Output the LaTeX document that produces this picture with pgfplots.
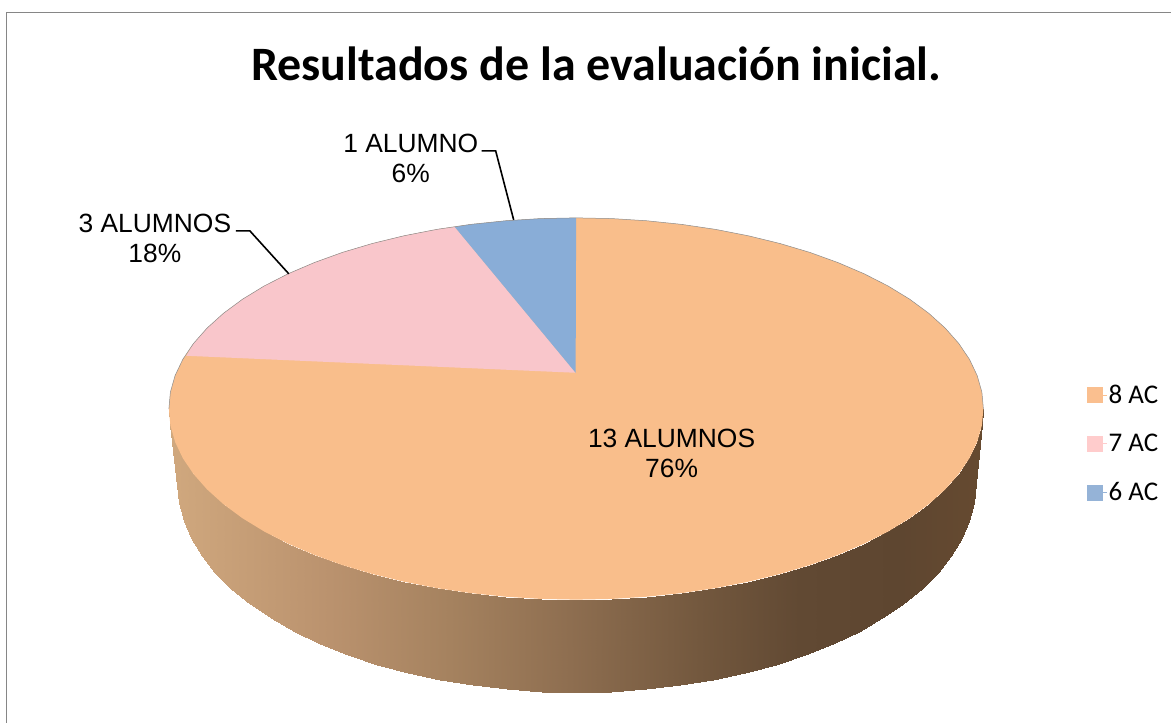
\documentclass[border=0pt]{standalone}
\usepackage{pgfplots}
\pgfplotsset{compat=1.18}
\usepackage{fontspec}
\setmainfont{Liberation Sans}
\newfontfamily\carlito{Carlito}
\definecolor{topO}{HTML}{F9BE8B}
\definecolor{topP}{HTML}{F9C6CB}
\definecolor{topB}{HTML}{89ADD7}
\definecolor{legO}{HTML}{FABF8F}
\definecolor{legP}{HTML}{FFCCCC}
\definecolor{legB}{HTML}{95B3D7}
\definecolor{frameC}{HTML}{868686}
\begin{document}
\begin{tikzpicture}
\begin{axis}[
  scale only axis, width=1172pt, height=723pt,
  xmin=0, xmax=1172, ymin=0, ymax=723, y dir=reverse,
  hide axis, clip=false,
  colormap={side}{rgb255(0pt)=(208,168,126); rgb255(160pt)=(186,146,110); rgb255(280pt)=(165,130,95); rgb255(400pt)=(142,110,80); rgb255(530pt)=(115,88,62); rgb255(630pt)=(97,73,51); rgb255(730pt)=(94,70,48); rgb255(815pt)=(102,74,48)},
  point meta min=170, point meta max=985,
  legend style={at={(axis cs:1088,383)}, anchor=north west, draw=none, fill=none,
    font=\carlito\fontsize{27}{27}\selectfont, row sep=25.5pt, inner sep=0pt, outer sep=0pt,
    /tikz/every even column/.append style={column sep=6pt}},
  legend cell align=left,
  legend image code/.code={\fill[#1] (0pt,-7.5pt) rectangle (15pt,7.5pt); \path (0pt,0pt) -- (19pt,0pt);},
]
\path (axis cs:0,0) rectangle (axis cs:1172,723);
% frame
\addplot[forget plot, frameC, line width=1.5pt] coordinates {(6.5,723) (6.5,12.5) (1172,12.5)};
% side band
\addplot[forget plot, surf, shader=interp, mesh/rows=2, mesh/cols=37, point meta=x] coordinates {
(984.0,409) (982.5,425.7) (977.8,442.2) (970.1,458.4) (959.4,474.3) (945.8,489.7) (929.4,504.5) (910.3,518.6) (888.7,531.8) (864.6,544.1) (838.4,555.3) (810.2,565.5) (780.3,574.4) (748.7,582.1) (715.9,588.5) (682.0,593.5) (647.2,597.1) (612.0,599.3) (576.5,600) (541.0,599.3) (505.8,597.1) (471.0,593.5) (437.1,588.5) (404.3,582.1) (372.7,574.4) (342.8,565.5) (314.6,555.3) (288.4,544.1) (264.3,531.8) (242.7,518.6) (223.6,504.5) (207.2,489.7) (193.6,474.3) (182.9,458.4) (175.2,442.2) (170.5,425.7) (169.0,409)

(976,485) (974.5,503.1) (969.9,521.1) (962.4,538.8) (951.9,556.1) (938.6,572.9) (922.5,589) (903.9,604.3) (882.6,618.7) (859.1,632.1) (833.5,644.3) (805.9,655.4) (776.5,665.1) (745.6,673.5) (713.5,680.5) (680.3,685.9) (646.3,689.8) (611.8,692.2) (577,693) (542.2,692.2) (507.7,689.8) (473.7,685.9) (440.5,680.5) (408.4,673.5) (377.5,665.1) (348.1,655.4) (320.5,644.3) (294.9,632.1) (271.4,618.7) (250.1,604.3) (231.5,589) (215.4,572.9) (202.1,556.1) (191.6,538.8) (184.1,521.1) (179.5,503.1) (178,485)
};
% top: orange (whole disc first)
\addplot[forget plot, fill=topO, draw=none] coordinates {
(984.0,409) (982.5,425.7) (977.8,442.2) (970.1,458.4) (959.4,474.3) (945.8,489.7) (929.4,504.5) (910.3,518.6) (888.7,531.8) (864.6,544.1) (838.4,555.3) (810.2,565.5) (780.3,574.4) (748.7,582.1) (715.9,588.5) (682.0,593.5) (647.2,597.1) (612.0,599.3) (576.5,600) (541.0,599.3) (505.8,597.1) (471.0,593.5) (437.1,588.5) (404.3,582.1) (372.7,574.4) (342.8,565.5) (314.6,555.3) (288.4,544.1) (264.3,531.8) (242.7,518.6) (223.6,504.5) (207.2,489.7) (193.6,474.3) (182.9,458.4) (175.2,442.2) (170.5,425.7) (169.0,409)
(170.5,392.3) (175.2,375.8) (182.9,359.6) (193.6,343.7) (207.2,328.3) (223.6,313.5) (242.7,299.4) (264.3,286.2) (288.4,273.9) (314.6,262.7) (342.8,252.5) (372.7,243.6) (404.3,235.9) (437.1,229.5) (471.0,224.5) (505.8,220.9) (541.0,218.7) (576.5,218)
(612.0,218.7) (647.2,220.9) (682.0,224.5) (715.9,229.5) (748.7,235.9) (780.3,243.6) (810.2,252.5) (838.4,262.7) (864.6,273.9) (888.7,286.2) (910.3,299.4) (929.4,313.5) (945.8,328.3) (959.4,343.7) (970.1,359.6) (977.8,375.8) (982.5,392.3) (984.0,409)
};
% pink
\addplot[forget plot, fill=topP, draw=none] coordinates {
(576,373) (455,227) (437.1,229.5) (404.3,235.9) (372.7,243.6) (342.8,252.5) (314.6,262.7) (288.4,273.9) (264.3,286.2) (242.7,299.4) (223.6,313.5) (207.2,328.3) (193.6,343.7) (186.5,356) (576,373)
};
% blue
\addplot[forget plot, fill=topB, draw=none] coordinates {
(576,373) (576.5,218) (541.0,218.7) (505.8,220.9) (471.0,224.5) (455,227) (576,373)
};
% thin edge of the disc's upper arc
\addplot[forget plot, black!45, line width=0.5pt] coordinates {
(169.0,409) (170.5,392.3) (175.2,375.8) (182.9,359.6) (193.6,343.7) (207.2,328.3) (223.6,313.5) (242.7,299.4) (264.3,286.2) (288.4,273.9) (314.6,262.7) (342.8,252.5) (372.7,243.6) (404.3,235.9) (437.1,229.5) (471.0,224.5) (505.8,220.9) (541.0,218.7) (576.5,218)
(612.0,218.7) (647.2,220.9) (682.0,224.5) (715.9,229.5) (748.7,235.9) (780.3,243.6) (810.2,252.5) (838.4,262.7) (864.6,273.9) (888.7,286.2) (910.3,299.4) (929.4,313.5) (945.8,328.3) (959.4,343.7) (970.1,359.6) (977.8,375.8) (982.5,392.3) (984.0,409)
};
% leader lines
\addplot[forget plot, black, line width=1.6pt] coordinates {(482,151) (496,151) (514,220)};
\addplot[forget plot, black, line width=1.6pt] coordinates {(236,231) (250,231) (289,274)};
% legend
\addlegendimage{legO}
\addlegendentry{8 AC}
\addlegendimage{legP}
\addlegendentry{7 AC}
\addlegendimage{legB}
\addlegendentry{6 AC}
% texts
\node[font=\carlito\bfseries\fontsize{48}{48}\selectfont] at (axis cs:596.5,64) {Resultados de la evaluación inicial.};
\node[font=\fontsize{26.4}{30}\selectfont, align=center] at (axis cs:411,159) {1 ALUMNO\\6\%};
\node[font=\fontsize{26.4}{30}\selectfont, align=center] at (axis cs:155,239) {3 ALUMNOS\\18\%};
\node[font=\fontsize{26.4}{30}\selectfont, align=center] at (axis cs:672,454) {13 ALUMNOS\\76\%};
\end{axis}
\end{tikzpicture}
\end{document}
